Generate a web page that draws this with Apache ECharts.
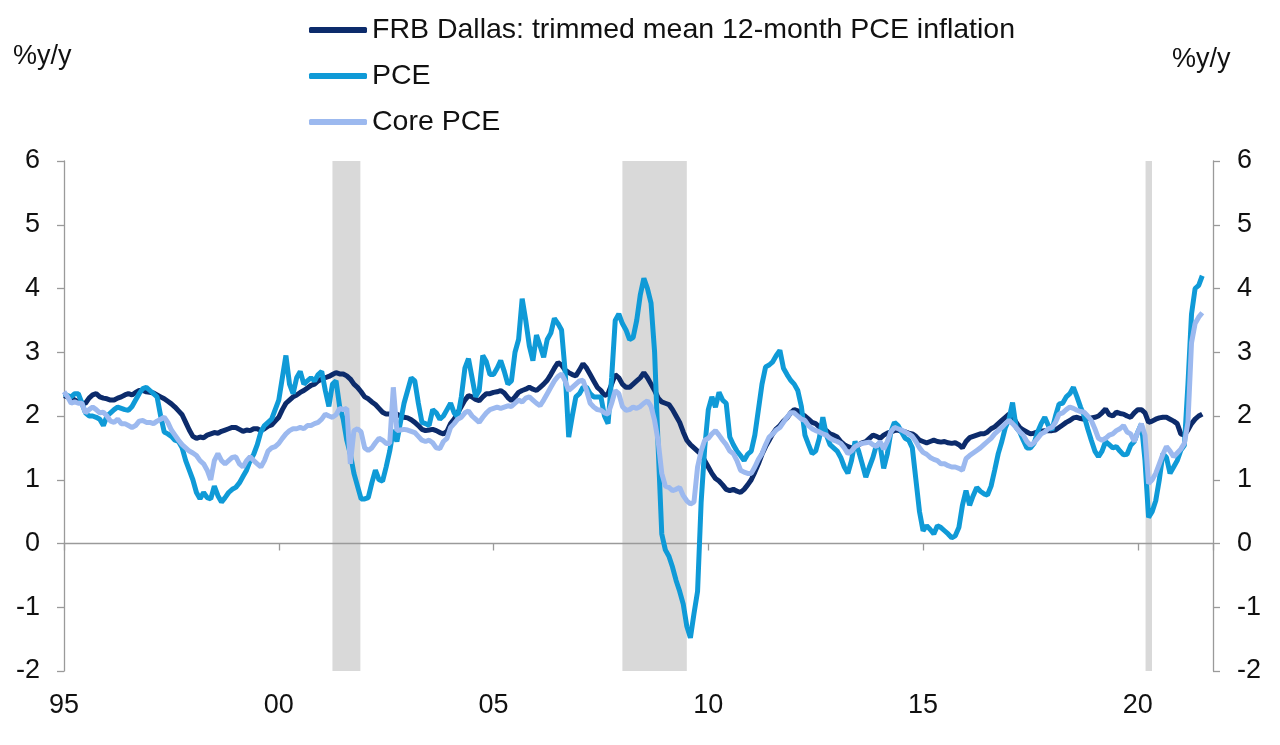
<!DOCTYPE html>
<html>
<head>
<meta charset="utf-8">
<script src="https://cdn.jsdelivr.net/npm/echarts@6/dist/echarts.min.js"></script>
<style>
html,body{margin:0;padding:0;background:#fff;}
#chart{width:1280px;height:745px;}
</style>
</head>
<body>
<div id="chart"></div>
<script>
// Monthly data, Jan 1995 .. Jul 2021 (% y/y)
const startYear = 1995;
const seriesNames = ['FRB Dallas: trimmed mean 12-month PCE inflation', 'PCE', 'Core PCE'];
const seriesColors = ['#0c2b6b', '#0f9ad7', '#9cb9ef'];

const trimmedMean = [
  2.32,2.3,2.28,2.25,2.22,2.2,2.2,2.28,2.33,2.35,2.3,2.28,
  2.27,2.25,2.25,2.28,2.3,2.33,2.35,2.33,2.37,2.4,2.4,2.38,
  2.37,2.36,2.33,2.3,2.27,2.23,2.19,2.14,2.08,2.02,1.9,1.78,
  1.68,1.65,1.67,1.66,1.7,1.72,1.74,1.73,1.76,1.78,1.8,1.82,
  1.82,1.79,1.76,1.78,1.77,1.8,1.8,1.77,1.8,1.84,1.86,1.92,
  1.98,2.1,2.2,2.25,2.3,2.33,2.37,2.4,2.44,2.48,2.5,2.55,
  2.58,2.6,2.62,2.65,2.68,2.66,2.66,2.63,2.58,2.5,2.45,2.38,
  2.3,2.27,2.22,2.18,2.12,2.06,2.03,2.03,2.02,2.03,2.0,1.98,
  1.97,1.94,1.9,1.85,1.79,1.77,1.78,1.79,1.77,1.74,1.72,1.76,
  1.88,1.95,2.05,2.15,2.25,2.32,2.3,2.26,2.24,2.3,2.35,2.35,
  2.37,2.38,2.4,2.36,2.29,2.24,2.3,2.37,2.4,2.42,2.45,2.42,
  2.4,2.45,2.5,2.56,2.65,2.75,2.84,2.8,2.72,2.68,2.65,2.63,
  2.72,2.82,2.75,2.65,2.55,2.45,2.4,2.32,2.35,2.5,2.65,2.6,
  2.5,2.45,2.45,2.5,2.55,2.6,2.68,2.6,2.5,2.4,2.28,2.22,
  2.2,2.18,2.1,2.0,1.9,1.75,1.62,1.55,1.5,1.45,1.4,1.3,
  1.2,1.1,1.02,0.98,0.92,0.85,0.83,0.85,0.82,0.8,0.85,0.92,
  1.0,1.12,1.25,1.4,1.52,1.62,1.72,1.8,1.85,1.92,1.97,2.05,
  2.1,2.08,2.03,2.0,1.95,1.9,1.88,1.83,1.8,1.77,1.72,1.7,
  1.67,1.6,1.55,1.52,1.5,1.52,1.55,1.58,1.6,1.65,1.7,1.68,
  1.65,1.7,1.73,1.75,1.77,1.78,1.76,1.75,1.73,1.72,1.68,1.62,
  1.6,1.58,1.6,1.62,1.6,1.59,1.6,1.58,1.57,1.58,1.55,1.5,
  1.6,1.66,1.68,1.7,1.72,1.72,1.75,1.8,1.83,1.88,1.93,1.98,
  2.03,2.0,1.9,1.82,1.78,1.75,1.72,1.73,1.75,1.76,1.77,1.77,
  1.77,1.78,1.82,1.86,1.9,1.93,1.97,1.98,1.96,1.95,1.96,1.97,
  1.98,2.0,2.05,2.11,2.02,2.0,2.06,2.04,2.03,2.0,1.98,2.05,
  2.1,2.1,2.05,1.9,1.92,1.95,1.97,1.98,1.98,1.95,1.92,1.88,
  1.72,1.7,1.78,1.88,1.95,2.0,2.03
];

const pce = [
  2.35,2.32,2.3,2.35,2.35,2.2,2.05,2.0,2.0,1.98,1.95,1.85,
  2.0,2.05,2.1,2.14,2.12,2.1,2.09,2.15,2.25,2.35,2.43,2.45,
  2.4,2.35,2.3,2.0,1.75,1.72,1.68,1.62,1.6,1.5,1.3,1.15,
  1.0,0.8,0.7,0.8,0.72,0.7,0.9,0.75,0.65,0.72,0.8,0.85,
  0.88,0.95,1.05,1.15,1.3,1.4,1.55,1.75,1.85,1.9,1.95,2.1,
  2.25,2.6,2.95,2.5,2.35,2.6,2.7,2.5,2.55,2.6,2.55,2.65,
  2.7,2.4,2.15,2.5,2.55,2.15,1.95,1.62,1.4,1.1,0.9,0.7,
  0.7,0.72,0.95,1.15,1.0,0.98,1.2,1.45,1.78,1.6,1.9,2.2,
  2.4,2.6,2.55,2.2,1.9,1.88,1.85,2.1,2.05,1.95,2.0,2.1,
  2.2,2.05,1.98,2.3,2.75,2.9,2.6,2.3,2.4,2.95,2.85,2.65,
  2.65,2.75,2.87,2.7,2.5,2.55,3.0,3.2,3.84,3.5,3.1,2.87,
  3.27,3.1,2.92,3.2,3.3,3.53,3.45,3.35,2.7,1.67,2.0,2.3,
  2.35,2.45,2.45,2.35,2.3,2.3,2.3,2.0,1.88,2.6,3.5,3.6,
  3.45,3.35,3.2,3.23,3.5,3.9,4.16,4.0,3.77,3.0,1.5,0.15,
  -0.1,-0.2,-0.37,-0.58,-0.75,-0.95,-1.3,-1.48,-1.1,-0.75,0.65,1.5,
  2.1,2.3,2.14,2.37,2.25,2.2,1.67,1.55,1.45,1.38,1.3,1.4,
  1.45,1.7,2.1,2.5,2.77,2.8,2.85,2.95,3.03,2.75,2.65,2.56,
  2.5,2.4,2.15,1.7,1.55,1.41,1.45,1.65,1.98,1.7,1.55,1.5,
  1.45,1.35,1.2,1.1,1.3,1.6,1.45,1.25,1.04,1.2,1.35,1.55,
  1.54,1.18,1.4,1.75,1.9,1.85,1.75,1.65,1.62,1.5,1.0,0.5,
  0.2,0.28,0.22,0.15,0.28,0.25,0.2,0.15,0.09,0.12,0.25,0.6,
  0.83,0.6,0.75,0.88,0.82,0.78,0.76,0.9,1.15,1.41,1.6,1.82,
  1.95,2.21,1.82,1.75,1.62,1.5,1.5,1.57,1.75,1.88,1.98,1.85,
  1.78,2.0,2.19,2.2,2.3,2.35,2.45,2.3,2.14,2.0,1.8,1.62,
  1.45,1.36,1.45,1.6,1.55,1.5,1.52,1.45,1.39,1.4,1.54,1.6,
  1.75,1.88,1.3,0.41,0.5,0.67,1.0,1.41,1.35,1.1,1.2,1.3,
  1.46,1.54,2.5,3.6,4.0,4.05,4.2
];

const corePce = [
  2.38,2.3,2.2,2.22,2.2,2.2,2.05,2.1,2.14,2.1,2.05,2.06,
  2.0,1.92,1.9,1.95,1.88,1.88,1.85,1.82,1.85,1.92,1.93,1.9,
  1.9,1.88,1.92,1.95,1.98,1.9,1.78,1.7,1.62,1.55,1.5,1.45,
  1.42,1.38,1.3,1.25,1.15,1.0,1.3,1.41,1.3,1.25,1.3,1.35,
  1.36,1.25,1.2,1.3,1.36,1.3,1.25,1.2,1.3,1.45,1.5,1.52,
  1.57,1.65,1.72,1.77,1.8,1.8,1.82,1.8,1.85,1.85,1.88,1.9,
  1.95,2.03,2.0,1.98,2.02,2.12,2.1,2.12,1.25,1.77,1.8,1.75,
  1.5,1.46,1.5,1.58,1.65,1.62,1.57,1.57,2.45,1.77,1.78,1.79,
  1.78,1.76,1.74,1.68,1.62,1.6,1.62,1.58,1.5,1.49,1.6,1.65,
  1.82,1.88,1.95,1.98,2.05,2.08,2.0,1.95,1.9,1.98,2.05,2.1,
  2.12,2.14,2.12,2.14,2.16,2.15,2.2,2.25,2.22,2.28,2.3,2.25,
  2.2,2.16,2.25,2.35,2.45,2.55,2.62,2.66,2.55,2.4,2.45,2.5,
  2.55,2.56,2.4,2.2,2.14,2.1,2.09,2.05,2.03,2.2,2.4,2.35,
  2.15,2.09,2.1,2.14,2.12,2.15,2.2,2.24,2.15,1.93,1.6,1.1,
  0.9,0.88,0.83,0.85,0.88,0.75,0.67,0.62,0.65,1.2,1.45,1.62,
  1.65,1.72,1.77,1.7,1.62,1.55,1.45,1.41,1.3,1.15,1.12,1.1,
  1.1,1.2,1.32,1.41,1.55,1.67,1.72,1.78,1.82,1.9,1.98,2.05,
  2.05,2.0,1.95,1.93,1.85,1.8,1.77,1.75,1.72,1.7,1.65,1.62,
  1.6,1.57,1.5,1.41,1.45,1.52,1.55,1.57,1.58,1.59,1.55,1.52,
  1.6,1.48,1.6,1.75,1.82,1.8,1.78,1.75,1.72,1.68,1.6,1.5,
  1.43,1.4,1.35,1.32,1.3,1.25,1.25,1.22,1.2,1.2,1.18,1.15,
  1.33,1.38,1.42,1.46,1.5,1.55,1.6,1.65,1.72,1.77,1.82,1.88,
  1.93,1.88,1.82,1.75,1.7,1.6,1.54,1.58,1.65,1.72,1.75,1.8,
  1.82,1.9,2.03,2.05,2.1,2.14,2.12,2.09,2.07,2.06,2.0,1.93,
  1.8,1.65,1.62,1.65,1.7,1.72,1.77,1.8,1.85,1.75,1.72,1.6,
  1.75,1.88,1.7,0.94,1.0,1.1,1.25,1.4,1.52,1.45,1.36,1.42,
  1.48,1.57,1.9,3.15,3.45,3.55,3.62
];

// US recessions (decimal years, start/end)
const recessions = [[2001.25, 2001.9], [2008.0, 2009.5], [2020.18, 2020.33]];

// Axes
const xMin = 1995, xMax = 2021.75, xInterval = 5;
const yMin = -2, yMax = 6, yInterval = 1;
const axisUnit = '%y/y';

const FONT = '"Liberation Sans", Arial, Helvetica, sans-serif';
const toPoints = arr => arr.map((v, i) => [startYear + i / 12, v]);

const chart = echarts.init(document.getElementById('chart'));

const yAxisCommon = {
  type: 'value', min: yMin, max: yMax, interval: yInterval,
  axisLine: { show: true, onZero: false, lineStyle: { color: '#9a9a9a', width: 1.3 } },
  axisTick: { show: true, length: 7, lineStyle: { color: '#9a9a9a', width: 1.3 } },
  axisLabel: { fontSize: 27, color: '#111', margin: 24, fontFamily: FONT },
  splitLine: { show: false }
};

const option = {
  backgroundColor: '#fff',
  animation: false,
  grid: { left: 64, right: 67, top: 161, bottom: 74, containLabel: false },
  legend: {
    orient: 'vertical', left: 304, top: 10,
    data: seriesNames,
    icon: 'roundRect', itemWidth: 58, itemHeight: 6, itemGap: 16,
    textStyle: { fontSize: 28.5, color: '#111', fontFamily: FONT, lineHeight: 30 }
  },
  xAxis: [
    {
      type: 'value', position: 'bottom', min: xMin, max: xMax, interval: xInterval,
      axisLine: { show: false, onZero: false },
      axisTick: { show: false },
      splitLine: { show: false },
      axisLabel: {
        fontSize: 27, color: '#111', margin: 21, fontFamily: FONT,
        formatter: v => (v % 5 === 0 ? String(v).slice(2) : '')
      }
    },
    {
      type: 'value', position: 'bottom', min: xMin, max: xMax, interval: xInterval, z: 2,
      axisLine: { show: true, onZero: true, lineStyle: { color: '#9a9a9a', width: 1.3 } },
      axisTick: { show: true, length: 7, lineStyle: { color: '#9a9a9a', width: 1.3 } },
      axisLabel: { show: false },
      splitLine: { show: false }
    }
  ],
  yAxis: [
    Object.assign({ position: 'left' }, yAxisCommon),
    Object.assign({ position: 'right' }, yAxisCommon)
  ],
  graphic: [
    { type: 'text', left: 13, top: 43, style: { text: axisUnit, fontSize: 27, fill: '#111', fontFamily: FONT } },
    { type: 'text', left: 1172, top: 46, style: { text: axisUnit, fontSize: 27, fill: '#111', fontFamily: FONT } }
  ],
  series: [
    {
      name: seriesNames[0], type: 'line', data: toPoints(trimmedMean), xAxisIndex: 0, yAxisIndex: 0,
      showSymbol: false, symbol: 'none', z: 3,
      lineStyle: { width: 5, color: seriesColors[0] }, itemStyle: { color: seriesColors[0] },
      markArea: {
        silent: true, z: 1,
        itemStyle: { color: '#d9d9d9' },
        data: recessions.map(r => [{ xAxis: r[0] }, { xAxis: r[1] }])
      }
    },
    {
      name: seriesNames[1], type: 'line', data: toPoints(pce), xAxisIndex: 0, yAxisIndex: 0,
      showSymbol: false, symbol: 'none', z: 4,
      lineStyle: { width: 5, color: seriesColors[1] }, itemStyle: { color: seriesColors[1] }
    },
    {
      name: seriesNames[2], type: 'line', data: toPoints(corePce), xAxisIndex: 0, yAxisIndex: 0,
      showSymbol: false, symbol: 'none', z: 5,
      lineStyle: { width: 5, color: seriesColors[2] }, itemStyle: { color: seriesColors[2] }
    }
  ]
};
chart.setOption(option);
</script>
</body>
</html>
